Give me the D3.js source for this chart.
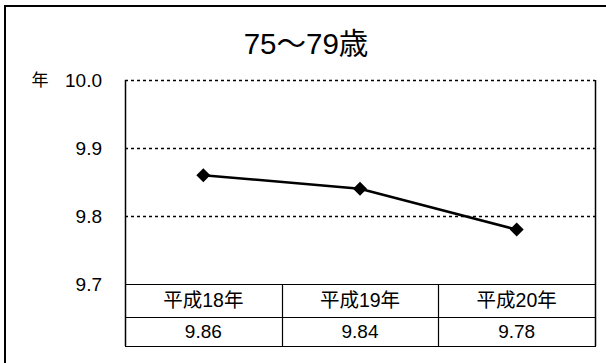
<!DOCTYPE html>
<html>
<head>
<meta charset="utf-8">
<script src="https://cdn.jsdelivr.net/npm/d3@7/dist/d3.min.js"></script>
<style>
  html, body { margin: 0; padding: 0; background: #fff; }
  svg { display: block; font-family: "Liberation Sans", Arial, "Noto Sans CJK JP", sans-serif; }
</style>
</head>
<body>
<svg id="chart" width="606" height="363"></svg>
<script>
const title = "75〜79歳";
const unitLabel = "年";
const categories = ["平成18年", "平成19年", "平成20年"];
const values = [9.86, 9.84, 9.78];
const valueLabels = ["9.86", "9.84", "9.78"];
const yTicks = [9.7, 9.8, 9.9, 10.0];
const yDomain = [9.7, 10.0];

const svg = d3.select("#chart");
const plot = { left: 125, right: 595, top: 80, bottom: 284 };
const rowH = [33, 29];

// outer frame (right/bottom edges fall outside the image)
svg.append("rect")
  .attr("x", 5).attr("y", 6)
  .attr("width", 620).attr("height", 380)
  .attr("fill", "none").attr("stroke", "#000").attr("stroke-width", 2);

const x = d3.scaleBand().domain(categories).range([plot.left, plot.right]).padding(0);
const y = d3.scaleLinear().domain(yDomain).range([plot.bottom, plot.top]);

// title
svg.append("text")
  .attr("x", 306).attr("y", 54)
  .attr("text-anchor", "middle")
  .attr("font-size", 29.5)
  .text(title);

// gridlines (dotted)
svg.append("g").selectAll("line")
  .data(yTicks.filter(t => t > yDomain[0]))
  .join("line")
  .attr("x1", plot.left).attr("x2", plot.right)
  .attr("y1", d => Math.round(y(d)) + 0.5).attr("y2", d => Math.round(y(d)) + 0.5)
  .attr("stroke", "#000").attr("stroke-width", 1.5)
  .attr("stroke-dasharray", "3,3");

// y axis labels
const yAxis = d3.axisLeft(y).tickValues(yTicks).tickFormat(d3.format(".1f")).tickSize(0).tickPadding(23);
const gy = svg.append("g").attr("transform", `translate(${plot.left},0)`).call(yAxis);
gy.select(".domain").remove();
gy.selectAll("text").attr("font-size", 19).attr("font-family", null).attr("fill", "#000");

// unit label
svg.append("text")
  .attr("x", 40).attr("y", y(yDomain[1]))
  .attr("dy", "0.35em")
  .attr("text-anchor", "middle")
  .attr("font-size", 17)
  .text(unitLabel);

// plot side borders
const tableBottom = plot.bottom + rowH[0] + rowH[1];
svg.append("line")
  .attr("x1", plot.left + 0.5).attr("x2", plot.left + 0.5)
  .attr("y1", plot.top).attr("y2", tableBottom)
  .attr("stroke", "#000").attr("stroke-width", 1.5);
svg.append("line")
  .attr("x1", plot.right + 0.5).attr("x2", plot.right + 0.5)
  .attr("y1", plot.top).attr("y2", tableBottom)
  .attr("stroke", "#000").attr("stroke-width", 1.5);

// data table
const tg = svg.append("g");
[plot.bottom, plot.bottom + rowH[0], tableBottom].forEach(yy => {
  tg.append("line")
    .attr("x1", plot.left).attr("x2", plot.right + 1)
    .attr("y1", yy + 0.5).attr("y2", yy + 0.5)
    .attr("stroke", "#000").attr("stroke-width", 1.2);
});
tg.selectAll("line.col")
  .data(categories.slice(1))
  .join("line")
  .attr("class", "col")
  .attr("x1", d => Math.round(x(d)) + 0.5).attr("x2", d => Math.round(x(d)) + 0.5)
  .attr("y1", plot.bottom).attr("y2", tableBottom)
  .attr("stroke", "#000").attr("stroke-width", 1.2);
tg.selectAll("text.cat")
  .data(categories)
  .join("text")
  .attr("class", "cat")
  .attr("x", d => x(d) + x.bandwidth() / 2)
  .attr("y", plot.bottom + rowH[0] / 2)
  .attr("dy", "0.35em")
  .attr("text-anchor", "middle")
  .attr("font-size", 19.5)
  .text(d => d);
tg.selectAll("text.val")
  .data(valueLabels)
  .join("text")
  .attr("class", "val")
  .attr("x", (d, i) => x(categories[i]) + x.bandwidth() / 2)
  .attr("y", plot.bottom + rowH[0] + rowH[1] / 2)
  .attr("dy", "0.35em")
  .attr("text-anchor", "middle")
  .attr("font-size", 19)
  .text(d => d);

// line
const pts = categories.map((c, i) => [x(c) + x.bandwidth() / 2, y(values[i])]);
svg.append("path")
  .attr("d", d3.line()(pts))
  .attr("fill", "none").attr("stroke", "#000").attr("stroke-width", 2.5);

// markers
svg.append("g").selectAll("path")
  .data(pts)
  .join("path")
  .attr("transform", d => `translate(${d[0]},${d[1]})`)
  .attr("d", "M0,-7L7,0L0,7L-7,0Z")
  .attr("fill", "#000");
</script>
</body>
</html>
